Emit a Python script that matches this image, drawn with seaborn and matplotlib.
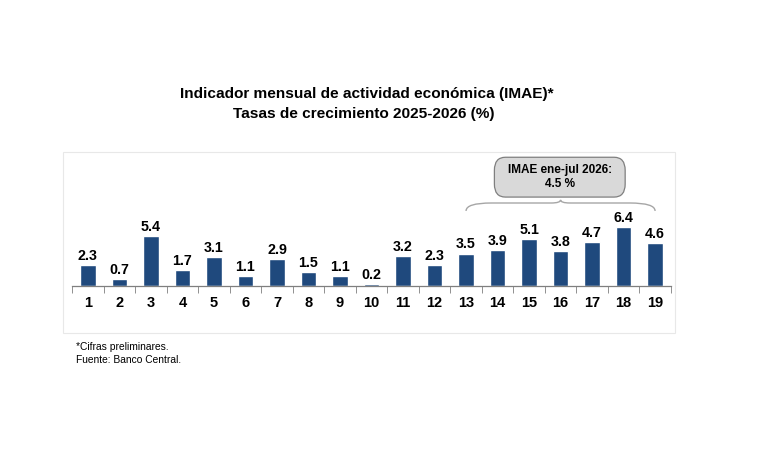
import numpy as np
import pandas as pd
import seaborn as sns
import matplotlib.pyplot as plt
from matplotlib.patches import FancyBboxPatch, Rectangle, PathPatch
from matplotlib.path import Path

# data
periods = [str(i) for i in range(1, 20)]
growth = [2.3, 0.7, 5.4, 1.7, 3.1, 1.1, 2.9, 1.5, 1.1, 0.2,
          3.2, 2.3, 3.5, 3.9, 5.1, 3.8, 4.7, 6.4, 4.6]
title_lines = ["Indicador mensual de actividad económica (IMAE)*",
               "Tasas de crecimiento 2025-2026 (%)"]
box_text = "IMAE ene-jul 2026:\n4.5 %"
notes = ["*Cifras preliminares.", "Fuente: Banco Central."]
brace_from, brace_to = 12, 18   # bar indices covered by the brace

sns.set_style("white")
plt.rcParams['font.family'] = ['Liberation Sans', 'DejaVu Sans']
plt.rcParams['text.color'] = 'black'
plt.rcParams['xtick.color'] = 'black'

df = pd.DataFrame({"periodo": periods, "tasa": growth})

fig = plt.figure(figsize=(7.63, 4.53), dpi=100)
ax = fig.add_axes([0.0826, 0.2649, 0.802, 0.3996])

sns.barplot(data=df, x="periodo", y="tasa", color="#1F497D",
            saturation=1, width=0.5, ax=ax)
ax.bar_label(ax.containers[0], fmt="%.1f", padding=1.5,
             fontsize=10.3, fontweight="bold", color="black")

ax.set_xlim(-0.79, 18.63)
ax.set_ylim(-5.08, 14.47)
ax.set_xlabel("")
ax.set_ylabel("")
ax.set_yticks([])

for s in ["top", "right", "left"]:
    ax.spines[s].set_visible(False)
ax.spines["bottom"].set_position(("data", 0))
ax.spines["bottom"].set_bounds(-0.5, len(periods) - 0.5)
ax.spines["bottom"].set_color("#7f7f7f")
ax.spines["bottom"].set_linewidth(0.9)
ax.set_xticks(np.arange(-0.5, len(periods), 1), minor=True)
ax.tick_params(axis="x", which="minor", length=5, color="#7f7f7f",
               direction="out", bottom=True)
ax.tick_params(axis="x", which="major", length=0, pad=7)
for lbl in ax.get_xticklabels():
    lbl.set_fontweight("bold")
    lbl.set_fontsize(10.5)

# light frame around the chart area
ax.add_patch(Rectangle((0, 0), 1, 1, transform=ax.transAxes, fill=False,
                       edgecolor="#e8e8e8", linewidth=0.8, clip_on=False))

# curly brace over the last bars
mid = (brace_from + brace_to) / 2
y0, y1, y2 = 8.1, 8.96, 9.3
verts = [(brace_from, y0), (brace_from, y1), (brace_from + 0.8, y1),
         (mid - 0.3, y1), (mid, y1), (mid, y2),
         (mid, y1), (mid + 0.3, y1),
         (brace_to - 0.8, y1), (brace_to, y1), (brace_to, y0)]
codes = [Path.MOVETO, Path.CURVE3, Path.CURVE3,
         Path.LINETO, Path.CURVE3, Path.CURVE3,
         Path.CURVE3, Path.CURVE3,
         Path.LINETO, Path.CURVE3, Path.CURVE3]
ax.add_patch(PathPatch(Path(verts, codes), fill=False,
                       edgecolor="#a6a6a6", linewidth=1.0))

# summary box
ax.add_patch(FancyBboxPatch((12.9, 9.6), 4.15, 4.3,
                            boxstyle="round,pad=0,rounding_size=0.35",
                            facecolor="#d9d9d9", edgecolor="#7f7f7f",
                            linewidth=0.9, mutation_aspect=4))
ax.text(14.98, 11.75, box_text, ha="center", va="center",
        fontsize=8.5, fontweight="bold", linespacing=1.15)

fig.text(0.481, 0.793, title_lines[0], ha="center", va="center",
         fontsize=11.1, fontweight="bold")
fig.text(0.477, 0.749, title_lines[1], ha="center", va="center",
         fontsize=11.1, fontweight="bold")
fig.text(0.0996, 0.233, notes[0], ha="left", va="center", fontsize=7.4)
fig.text(0.0996, 0.205, notes[1], ha="left", va="center", fontsize=7.4)

fig.savefig("out.png", dpi=100)
